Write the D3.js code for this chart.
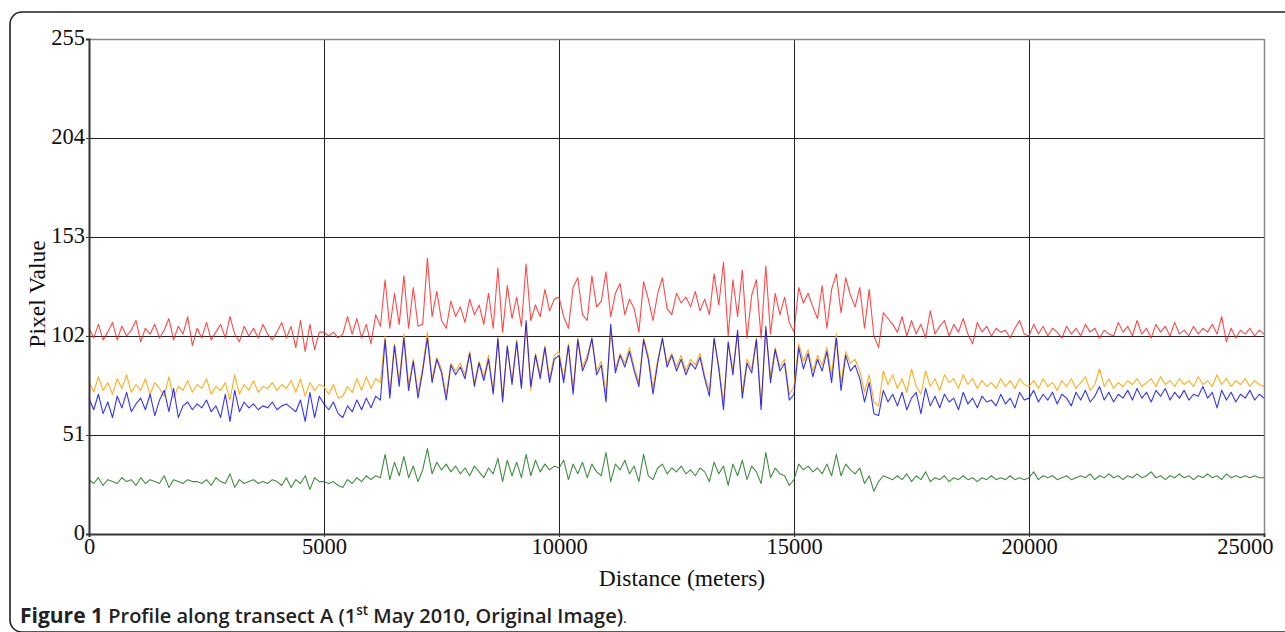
<!DOCTYPE html>
<html>
<head>
<meta charset="utf-8">
<script src="https://cdn.jsdelivr.net/npm/d3@7"></script>
<style>
  body { margin: 0; background: #fff; }
  svg { display: block; }
</style>
</head>
<body>
<svg id="myGraph" width="1285" height="632"></svg>
<script>
var svgWidth = 1285;
var svgHeight = 632;

// sampling step along the transect (meters)
var stepMeters = 100;

var yTicks = [0, 51, 102, 153, 204, 255];
var xTicks = [0, 5000, 10000, 15000, 20000, 25000];

// pixel values, one every 100 m
var redValues = [
  106,101,108,100,104,109,100,107,102,105, 110,99,106,103,108,101,105,111,100,107,
  103,112,97,106,101,109,100,104,108,101, 112,103,99,107,102,106,101,108,103,100,
  104,109,101,107,96,110,94,108,95,104,
  104,102,104,101,103,112,103,111,101,108, 98,113,107,131,106,124,108,133,106,127,
  107,108,142,112,125,110,106,120,112,117, 109,121,113,118,108,124,106,137,104,128,
  111,122,107,139,110,118,112,126,115,121,
  122,112,106,127,132,113,110,133,117,120, 135,112,124,129,113,121,116,104,130,121,
  110,124,132,116,113,124,119,122,117,125, 115,121,113,134,118,140,102,131,112,136,
  101,123,131,101,138,103,124,113,122,109,
  104,127,119,124,117,111,128,106,126,134, 114,132,123,117,127,106,126,102,96,114,
  111,108,104,112,102,110,103,108,101,115, 103,107,110,102,108,104,111,103,98,109,
  104,107,102,106,104,105,101,106,110,103,
  102,108,103,107,102,106,104,101,107,103, 106,102,108,104,106,101,105,103,102,109,
  104,107,102,110,103,106,101,108,104,107, 102,109,103,105,102,107,103,106,104,108,
  103,112,99,106,101,105,103,106,102,105, 103
];

var orangeValues = [
  79,73,81,74,78,72,80,75,82,73, 77,74,80,72,78,75,71,81,70,76,
  74,79,73,77,75,80,72,76,74,78, 69,82,72,77,74,79,73,76,75,78,
  74,77,75,79,73,80,71,78,74,77,
  76,72,77,70,71,76,73,80,74,81, 75,80,78,102,73,98,79,103,77,90,
  73,86,104,80,91,85,72,88,84,88, 82,94,78,89,81,92,74,100,70,96,
  79,100,76,108,74,93,82,97,80,92,
  94,80,98,75,101,86,92,100,84,89, 72,104,85,93,88,96,86,78,101,92,
  75,90,100,88,93,86,92,84,90,87, 93,82,74,100,87,68,98,85,103,73,
  90,85,101,67,105,81,96,86,90,72,
  76,98,89,95,84,92,87,96,82,103, 78,94,88,90,84,73,82,68,66,84,
  77,82,75,80,73,85,76,72,84,76, 80,74,82,78,80,75,82,77,80,75,
  79,76,78,75,80,76,79,75,80,77,
  76,79,75,80,76,78,74,79,76,80, 75,78,81,74,77,85,76,80,75,78,
  76,79,77,80,76,78,80,76,81,77, 79,76,80,77,79,76,81,77,79,76,
  82,77,80,76,79,77,80,76,79,77, 76
];

var blueValues = [
  70,64,72,62,68,60,71,65,73,63, 67,70,64,72,61,69,74,63,75,60,
  66,68,64,67,65,69,63,66,60,72, 58,74,63,68,65,67,64,66,65,68,
  64,66,67,65,63,69,58,73,60,71,
  67,64,68,62,60,66,63,69,64,70, 65,71,69,100,70,97,76,101,74,89,
  70,84,101,78,90,83,69,87,82,86, 80,93,76,88,79,90,72,101,68,97,
  77,99,75,110,76,92,80,96,78,90,
  92,78,97,72,100,84,90,101,82,87, 68,108,83,92,86,94,84,76,100,90,
  72,88,101,86,92,84,90,82,88,85, 91,80,71,101,85,64,99,82,105,70,
  88,83,100,64,107,78,95,84,88,69,
  72,96,85,93,81,90,84,94,78,101, 74,92,84,87,80,68,78,62,61,74,
  68,72,66,73,64,70,73,62,75,66, 71,65,72,68,70,64,73,67,70,65,
  71,68,69,66,72,67,70,65,73,69,
  70,74,68,72,69,73,67,72,70,66, 73,69,74,68,71,76,69,73,68,72,
  70,74,69,75,70,73,68,74,71,75, 69,73,70,74,69,72,71,76,70,73,
  65,74,69,73,68,72,70,74,69,72, 70
];

var greenValues = [
  28,26,29,25,28,27,26,29,27,28, 25,29,26,28,27,26,30,24,28,27,
  26,28,27,27,26,28,25,29,27,26, 31,24,28,26,27,28,26,27,26,28,
  27,25,29,24,28,26,30,23,29,27,
  27,26,27,25,24,28,26,29,27,30, 28,30,29,41,28,37,30,40,29,35,
  27,33,44,31,37,33,36,32,35,31, 34,30,35,32,29,34,31,39,27,38,
  30,37,29,41,30,38,32,36,33,35,
  34,38,28,36,31,37,29,36,32,30, 42,27,36,33,38,31,35,27,41,30,
  28,34,36,31,34,32,35,31,33,30, 34,32,27,37,31,35,25,36,30,38,
  28,35,32,26,42,29,34,31,30,25,
  28,36,33,35,32,34,31,36,30,41, 30,36,33,31,34,26,30,22,27,30,
  29,28,30,28,31,27,30,28,32,27, 29,28,30,27,29,28,30,28,29,27,
  29,28,30,28,29,28,30,28,29,28,
  29,32,28,30,29,30,28,29,30,28, 29,30,29,31,28,30,29,31,29,30,
  28,30,29,31,29,30,32,29,30,28, 30,29,31,29,30,28,30,29,31,29,
  30,28,31,29,30,29,30,29,30,29, 29
];

var seriesList = [
  { name: 'red', values: redValues, color: '#ff1a1a', opacity: 0.8 },
  { name: 'orange', values: orangeValues, color: '#ffa500', opacity: 0.9 },
  { name: 'blue', values: blueValues, color: '#0000ff', opacity: 0.8 },
  { name: 'green', values: greenValues, color: '#1f7a1f', opacity: 0.85 }
];

var plotLeft = 89, plotRight = 1264, plotTop = 39, plotBottom = 534;
var serif = '"Liberation Serif", "Times New Roman", serif';

var svg = d3.select('#myGraph');

// frame with rounded corners
svg.append('rect')
  .attr('x', 10).attr('y', 12)
  .attr('width', 1300).attr('height', 620)
  .attr('rx', 12).attr('ry', 12)
  .attr('fill', 'none')
  .attr('stroke', '#222')
  .attr('stroke-width', 1.6);

var xScale = d3.scaleLinear().domain([0, 25000]).range([plotLeft, plotRight]);
var yScale = d3.scaleLinear().domain([0, 255]).range([plotBottom, plotTop]);

// grid lines
var grid = svg.append('g');
grid.selectAll('.hgrid')
  .data(yTicks.slice(1, -1))
  .enter().append('line')
  .attr('x1', plotLeft).attr('x2', plotRight)
  .attr('y1', function(d) { return Math.round(yScale(d)) + 0.5; })
  .attr('y2', function(d) { return Math.round(yScale(d)) + 0.5; })
  .attr('stroke', '#222').attr('stroke-width', 1);
grid.selectAll('.vgrid')
  .data(xTicks.slice(1, -1))
  .enter().append('line')
  .attr('y1', plotTop).attr('y2', plotBottom)
  .attr('x1', function(d) { return Math.round(xScale(d)) + 0.5; })
  .attr('x2', function(d) { return Math.round(xScale(d)) + 0.5; })
  .attr('stroke', '#222').attr('stroke-width', 1);

// top and right border (lighter)
svg.append('line')
  .attr('x1', plotLeft).attr('x2', plotRight)
  .attr('y1', plotTop + 0.5).attr('y2', plotTop + 0.5)
  .attr('stroke', '#888').attr('stroke-width', 1.5);
svg.append('line')
  .attr('x1', plotRight + 0.5).attr('x2', plotRight + 0.5)
  .attr('y1', plotTop).attr('y2', plotBottom)
  .attr('stroke', '#888').attr('stroke-width', 1.5);

// profile lines
var line = d3.line()
  .x(function(d, i) { return xScale(i * stepMeters); })
  .y(function(d) { return yScale(d); });

svg.append('g')
  .selectAll('path')
  .data(seriesList)
  .enter().append('path')
  .attr('d', function(d) { return line(d.values); })
  .attr('fill', 'none')
  .attr('stroke', function(d) { return d.color; })
  .attr('stroke-opacity', function(d) { return d.opacity; })
  .attr('stroke-width', 1.1)
  .attr('stroke-linejoin', 'round');

// axes
var yAxis = svg.append('g')
  .attr('transform', 'translate(' + plotLeft + ',0)')
  .call(d3.axisLeft(yScale).tickValues(yTicks).tickSize(3).tickPadding(1).tickFormat(d3.format('d')));
var xAxis = svg.append('g')
  .attr('transform', 'translate(0,' + plotBottom + ')')
  .call(d3.axisBottom(xScale).tickValues(xTicks).tickSize(3).tickPadding(1).tickFormat(d3.format('d')));

[yAxis, xAxis].forEach(function(ax) {
  ax.select('.domain').attr('stroke', '#333').attr('stroke-width', 2);
  ax.selectAll('.tick line').attr('stroke', '#333');
  ax.selectAll('.tick text')
    .attr('fill', '#111')
    .style('font-family', serif)
    .style('font-size', '22.5px');
});
yAxis.selectAll('.tick text').attr('dy', '0.25em');
// last x label sits flush with the right edge of the plot
xAxis.selectAll('.tick text')
  .filter(function(d) { return d === 25000; })
  .attr('text-anchor', 'end')
  .attr('x', 9);

// axis titles
svg.append('text')
  .attr('transform', 'translate(45,294) rotate(-90)')
  .attr('text-anchor', 'middle')
  .style('font-family', serif)
  .style('font-size', '23.5px')
  .attr('fill', '#111')
  .text('Pixel Value');

svg.append('text')
  .attr('x', 682).attr('y', 586)
  .attr('text-anchor', 'middle')
  .style('font-family', serif)
  .style('font-size', '23.5px')
  .attr('fill', '#111')
  .text('Distance (meters)');

// caption
var caption = svg.append('text')
  .attr('x', 20).attr('y', 623)
  .style('font-family', '"Open Sans", "Noto Sans", sans-serif')
  .style('font-size', '20px')
  .attr('fill', '#222');
caption.append('tspan').style('font-weight', 700).style('font-size', '21px').text('Figure 1');
caption.append('tspan').style('font-weight', 600).text(' Profile along transect A (1');
caption.append('tspan').style('font-weight', 600).style('font-size', '13.5px').attr('dy', -8).text('st');
caption.append('tspan').style('font-weight', 600).attr('dy', 8).text(' May 2010, Original Image)');
caption.append('tspan').style('font-weight', 400).style('font-size', '14px').text('.');
</script>
</body>
</html>
